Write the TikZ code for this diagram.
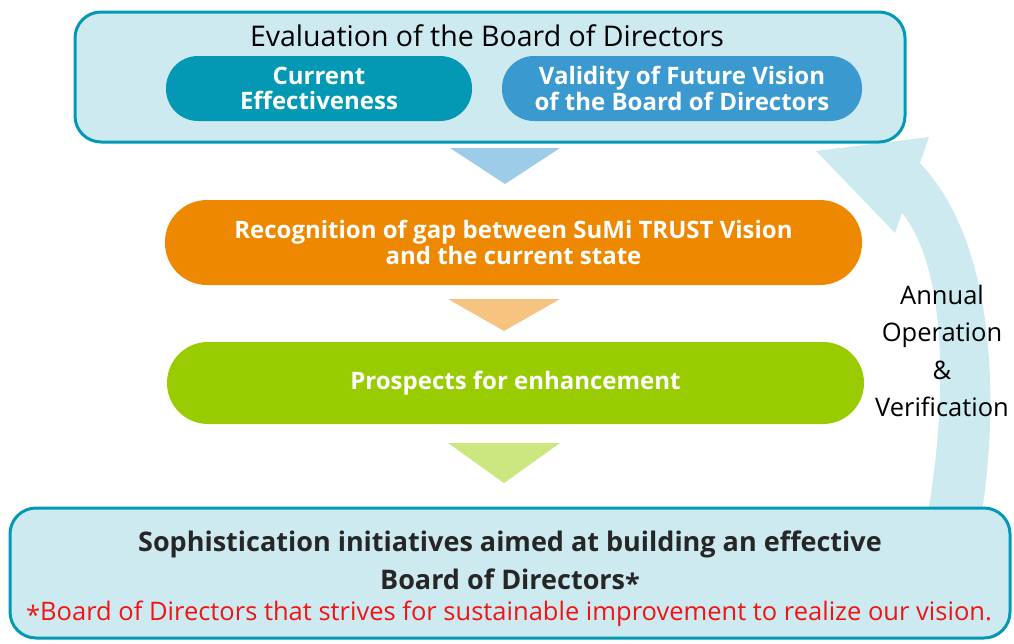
\documentclass[tikz,border=0pt]{standalone}
\usepackage{fontspec}
\setmainfont{Open Sans}
\usetikzlibrary{calc}

\definecolor{boxfill}{HTML}{CDEAF0}
\definecolor{boardteal}{HTML}{0399B4}
\definecolor{visionblue}{HTML}{3A99CF}
\definecolor{gaporange}{HTML}{EE8800}
\definecolor{prospgreen}{HTML}{99CC00}
\definecolor{notered}{HTML}{F01414}

\begin{document}
\begin{tikzpicture}[x=1pt, y=-1pt,
  panel/.style={draw=boardteal, line width=3pt, fill=boxfill, rounded corners=26pt},
  pill/.style={fill=#1, text=white, align=center, inner sep=0pt, font=\fontsize{24}{25.5}\selectfont\bfseries},
  tri/.style={fill=#1}]
  \useasboundingbox (0,0) rectangle (1014,643);

  % Loop arrow back to the top
  \fill[boxfill] (982,512) .. controls (996,420) and (1002,250) .. (920,163)
    -- (929,137) -- (816,151) -- (895,233) -- (902,213)
    .. controls (952,275) and (944,420) .. (928,512) -- cycle;
  \node[align=center, font=\fontsize{25.5}{37.5}\selectfont] (loop) at (942,351)
    {Annual\\Operation\\\&\\Verification};

  % Evaluation panel
  \node[panel, minimum width=830, minimum height=130] (evalbox) at (490,77) {};
  \node[font=\fontsize{28.5}{30}\selectfont] (evaltitle) at (487,36) {Evaluation of the Board of Directors};
  \node[pill=boardteal, rounded corners=32pt, minimum width=306, minimum height=65] (current) at (319,88.5)
    {Current\\Effectiveness};
  \node[pill=visionblue, rounded corners=32pt, minimum width=360, minimum height=65] (validity) at (682,88.5)
    {Validity of Future Vision\\of the Board of Directors};

  % Steps
  \fill[tri=visionblue!50] (450,148) -- (560,148) -- (505,184) -- cycle;
  \node[pill=gaporange, rounded corners=42pt, minimum width=697, minimum height=85] (gap) at (513.5,242.5)
    {Recognition of gap between SuMi TRUST Vision\\and the current state};
  \fill[tri=gaporange!50] (448,299) -- (560,299) -- (504,331) -- cycle;
  \node[pill=prospgreen, rounded corners=41pt, minimum width=697, minimum height=82] (prospects) at (515.5,383)
    {Prospects for enhancement};
  \fill[tri=prospgreen!50] (448,443) -- (560,443) -- (504,483) -- cycle;

  % Sophistication panel
  \node[panel, minimum width=1000, minimum height=130] (sophbox) at (510,573) {};
  \node[font=\fontsize{27}{38}\selectfont\bfseries, text=black!85, align=center] (sophtitle) at (510,562)
    {Sophistication initiatives aimed at building an effective\\Board of Directors\raisebox{-0.3ex}{*}};
  \node[font=\fontsize{25.5}{26}\selectfont, text=notered] (sophnote) at (509,614)
    {\raisebox{-0.3ex}{*}Board of Directors that strives for sustainable improvement to realize our vision.};
\end{tikzpicture}
\end{document}
